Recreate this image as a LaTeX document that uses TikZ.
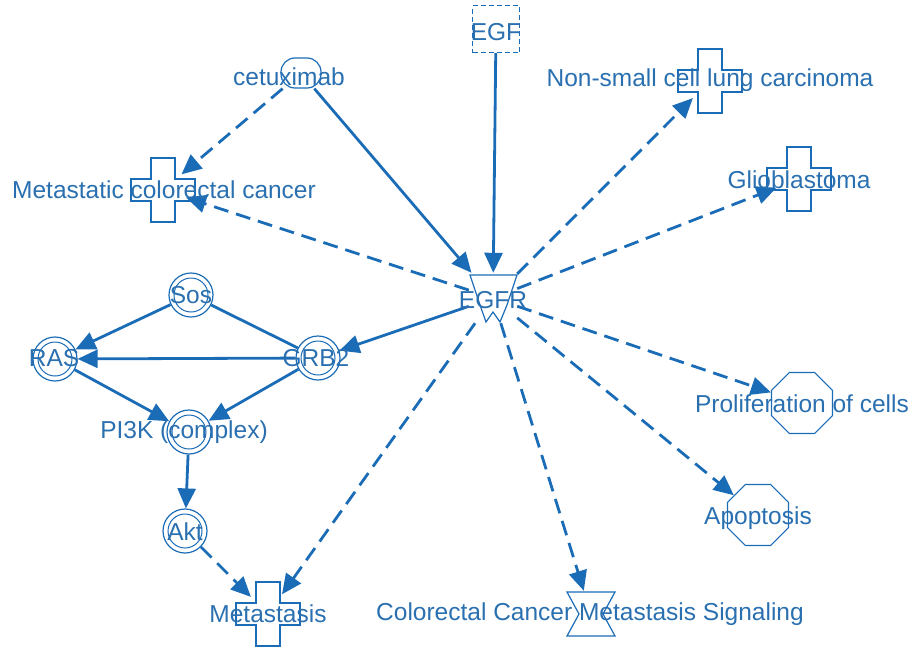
\documentclass[tikz,border=0pt]{standalone}
\usepackage{fontspec}
\setmainfont{Liberation Sans}
\usetikzlibrary{arrows.meta,shapes.geometric}
\definecolor{linecol}{RGB}{27,108,182}
\definecolor{textcol}{RGB}{42,112,176}
% plus-shaped outline used for disease entries
\newcommand{\diseasecross}[1]{%
  \draw[outline,shift={(#1.center)}] (-12,-32) -- (12,-32) -- (12,-11) -- (32,-11)
    -- (32,11) -- (12,11) -- (12,32) -- (-12,32) -- (-12,11) -- (-32,11)
    -- (-32,-11) -- (-12,-11) -- cycle;}
\begin{document}
\begin{tikzpicture}[x=1pt,y=-1pt,
  outline/.style={draw=linecol,line width=1.2pt},
  lbl/.style={text=textcol,font=\fontsize{24.5}{29}\selectfont,inner sep=0pt},
  ligand/.style={rectangle,draw=linecol,line width=1.2pt,dash pattern=on 5pt off 3pt,minimum size=47pt,inner sep=0pt},
  drug/.style={rectangle,outline,rounded corners=14pt,minimum width=40pt,minimum height=30pt,inner sep=0pt},
  receptor/.style={rectangle,minimum width=48pt,minimum height=50pt,inner sep=0pt},
  complexcirc/.style={circle,outline,minimum size=44pt,inner sep=0pt},
  disease/.style={circle,minimum size=48pt,inner sep=0pt},
  process/.style={regular polygon,regular polygon sides=8,outline,minimum size=66pt,inner sep=0pt},
  pathway/.style={rectangle,minimum width=48pt,minimum height=46pt,inner sep=0pt},
  act/.style={line width=2.8pt,draw=linecol,-{Triangle[length=20pt,width=18pt]}},
  dact/.style={act,dash pattern=on 15pt off 8pt},
  link/.style={line width=2.8pt,draw=linecol}]
\useasboundingbox (0,0) rectangle (913,648);

% entity shapes
\node[ligand] (egf) at (496,29) {};
\node[drug] (cetux) at (301,73) {};
\node[receptor] (egfr) at (493,298) {};
\draw[outline,shift={(egfr.center)}] (-23,-23) -- (24,-23) -- (14,7) -- (7,24)
  -- (0,14) -- (-7,24) -- (-13,7) -- cycle;
\node[disease] (mcc) at (163,190) {};
\node[disease] (nsclc) at (710,81) {};
\node[disease] (glio) at (799,179) {};
\node[disease] (meta) at (268,614) {};
\diseasecross{mcc}
\diseasecross{nsclc}
\diseasecross{glio}
\diseasecross{meta}
\node[complexcirc] (sos) at (191,295) {};
\node[complexcirc] (ras) at (55,359) {};
\node[complexcirc] (grb2) at (318,358) {};
\node[complexcirc] (pik) at (189,432) {};
\node[complexcirc] (akt) at (185,531) {};
\foreach \n in {sos,ras,grb2,pik,akt}
  \draw[outline,line width=1pt] (\n.center) circle[radius=17pt];
\node[process] (prolif) at (802,403) {};
\node[process] (apop) at (758,515) {};
\node[pathway] (ccms) at (591,614) {};
\draw[outline,shift={(ccms.center)}] (-24,-22) -- (24,-22) -- (12,0) -- (24,22)
  -- (-24,22) -- (-12,0) -- cycle;

% relationships
\draw[act] (egf) -- (egfr);
\draw[act] (cetux) -- (egfr);
\draw[dact] (cetux) -- (mcc);
\draw[dact] (egfr) -- (mcc);
\draw[dact] (egfr) -- (nsclc);
\draw[dact] (egfr) -- (glio);
\draw[act] (egfr) -- (grb2);
\draw[dact] (egfr) -- (prolif);
\draw[dact] (egfr) -- (apop);
\draw[dact] (egfr) -- (ccms);
\draw[dact] (egfr) -- (meta);
\draw[act] (sos) -- (ras);
\draw[link] (sos) -- (grb2);
\draw[act] (grb2) -- (ras);
\draw[act] (ras) -- (pik);
\draw[act] (grb2) -- (pik);
\draw[act] (pik) -- (akt);
\draw[dact] (akt) -- (meta);

% labels
\node[lbl] (egf-t) at (496,32) {EGF};
\node[lbl] (cetux-t) at (289,77) {cetuximab};
\node[lbl] (egfr-t) at (493,300) {EGFR};
\node[lbl] (mcc-t) at (164,190) {Metastatic colorectal cancer};
\node[lbl] (nsclc-t) at (710,80) {Non-small cell lung carcinoma};
\node[lbl] (glio-t) at (799,180) {Glioblastoma};
\node[lbl] (sos-t) at (191,295) {Sos};
\node[lbl] (ras-t) at (54,358) {RAS};
\node[lbl] (grb2-t) at (316,358) {GRB2};
\node[lbl] (pik-t) at (184,432) {PI3K (complex)};
\node[lbl] (akt-t) at (185,532) {Akt};
\node[lbl] (meta-t) at (268,614) {Metastasis};
\node[lbl] (ccms-t) at (590,614) {Colorectal Cancer Metastasis Signaling};
\node[lbl] (prolif-t) at (802,404) {Proliferation of cells};
\node[lbl] (apop-t) at (758,518) {Apoptosis};
\end{tikzpicture}
\end{document}
